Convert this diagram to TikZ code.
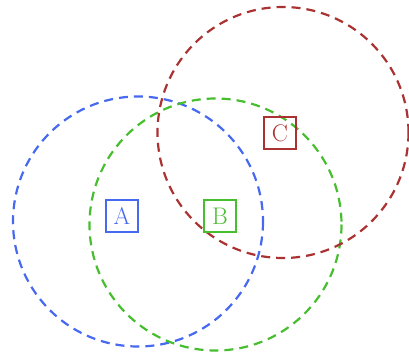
\documentclass[tikz,border=0pt]{standalone}
\begin{document}
\begin{tikzpicture}[x=1pt,y=-1pt,
  ring/.style={dashed,dash pattern=on 9pt off 6pt,line width=2.2pt},
  lbl/.style={draw,line width=1.4pt,minimum size=32pt,inner sep=0pt,font=\fontsize{24}{26}\selectfont}]
\definecolor{cblue}{RGB}{70,105,240}
\definecolor{cgreen}{RGB}{70,190,45}
\definecolor{cred}{RGB}{170,50,50}
\useasboundingbox (0,0) rectangle (409,358);
\draw[ring,cblue] (138,221.5) circle (125);
\draw[ring,cgreen] (215.5,224.5) circle (126);
\draw[ring,cred] (283,132.5) circle (125.5);
\node[lbl,cblue] (A) at (122,216) {A};
\node[lbl,cgreen] (B) at (220,216) {B};
\node[lbl,cred] (C) at (280,133) {C};
\end{tikzpicture}
\end{document}
